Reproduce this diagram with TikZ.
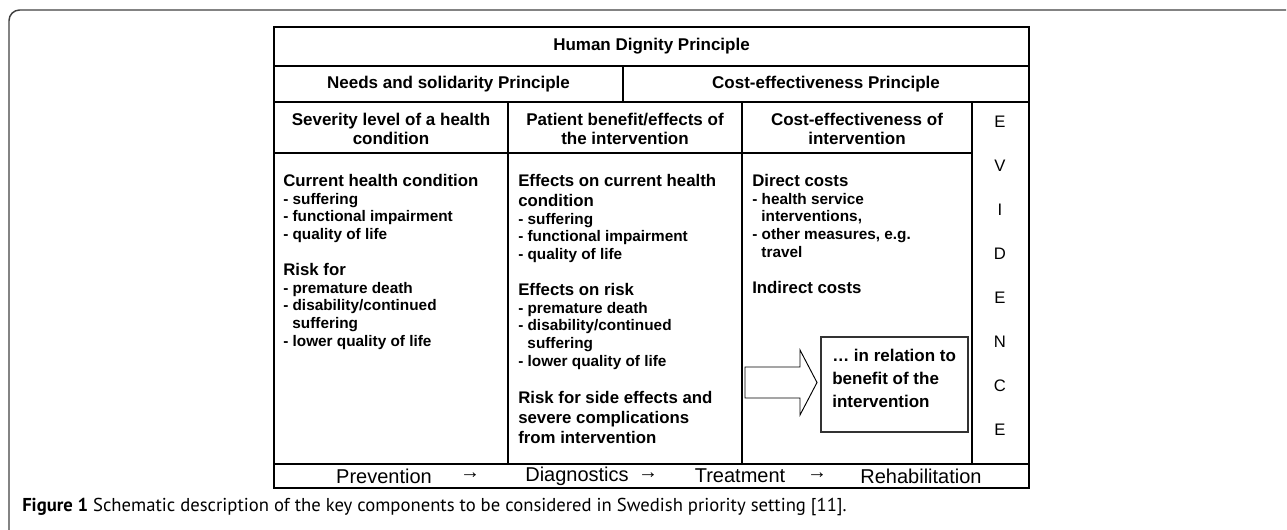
\documentclass[tikz,border=0pt]{standalone}
\usepackage{fontspec}
\setmainfont{Liberation Sans}
\newfontfamily\capfont{PT Sans}
\usepackage{tikz}
\usetikzlibrary{positioning}

\tikzset{
  rule/.style={line width=0.8pt},
  frame/.style={line width=1.1pt, black!75, rounded corners=8pt},
  hd/.style={font=\bfseries\fontsize{12.75}{14.5}\selectfont, align=center, inner sep=0pt},
  body/.style={font=\bfseries\fontsize{11.5}{13.3}\selectfont, align=left, anchor=north west, inner sep=0pt},
  ev/.style={font=\fontsize{12.5}{14}\selectfont, inner sep=0pt},
  flow/.style={font=\fontsize{15}{17}\selectfont, inner sep=0pt},
}
\newcommand{\ttl}[1]{{\fontsize{12.6}{13.3}\selectfont #1}}
\newcommand{\ind}{\hspace*{0.6em}}

\begin{document}
\begin{tikzpicture}[x=0.75pt, y=-0.75pt]
      \useasboundingbox (0,0) rectangle (1287,530);
      % frame round the figure
      \draw[frame] (9,530) -- (9,10) -- (1286,10);

      % table lines
      \draw[rule] (274,27) rectangle (1029,488);
      \draw[rule] (274,66) -- (1029,66);
      \draw[rule] (274,102) -- (1029,102);
      \draw[rule] (623,66) -- (623,102);
      \draw[rule] (274,153) -- (972,153);
      \draw[rule] (274,464) -- (1029,464);
      \foreach \x in {508,742,972}
        \draw[rule] (\x,102) -- (\x,464);

      % headers
      \node[hd] (dig) at (651.5,46.5) {Human Dignity Principle};
      \node[hd] (need) at (448.5,84) {Needs and solidarity Principle};
      \node[hd] (cost) at (826,84) {Cost-effectiveness Principle};
      \node[hd] (sev) at (391,129) {Severity level of a health\\condition};
      \node[hd] (ben) at (625,129) {Patient benefit/effects of\\the intervention};
      \node[hd] (eff) at (857,129) {Cost-effectiveness of\\intervention};

      % column texts
      \node[body] (cur) at (283,174) {\ttl{Current health condition}\\
        - suffering\\- functional impairment\\- quality of life\\[13.6pt]
        \ttl{Risk for}\\- premature death\\- disability/continued\\
        \ind suffering\\- lower quality of life};
      \node[body] (onc) at (518,174) {\ttl{Effects on current health}\\[1.7pt]
        \ttl{condition}\\- suffering\\- functional impairment\\- quality of life\\[13.6pt]
        \ttl{Effects on risk}\\- premature death\\- disability/continued\\
        \ind suffering\\- lower quality of life\\[14.6pt]
        \ttl{Risk for side effects and}\\[1.7pt]
        \ttl{severe complications}\\[1.7pt]
        \ttl{from intervention}};
      \node[body] (dir) at (752,174) {\ttl{Direct costs}\\
        - health service\\\ind interventions,\\- other measures, e.g.\\
        \ind travel\\[13.6pt]
        \ttl{Indirect costs}};

      % arrow into the box
      \draw[line width=0.7pt, fill=white] (745,367) -- (800,367) -- (800,350)
        -- (817,382.5) -- (800,415) -- (800,398) -- (745,398) -- cycle;
      \draw[line width=0.8pt, black!80] (821,337) rectangle (968,432);
      \node[body, font=\bfseries\fontsize{12.75}{17.25}\selectfont] (rel) at (832,349)
        {… in relation to\\benefit of the\\intervention};

      % evidence column
      \foreach \l [count=\i] in {E,V,I,D,E,N,C,E}
        \node[ev] (ev\i) at (1000,{122+(\i-1)*44}) {\l};

      % bottom row
      \node[flow] (prev) at (384,476) {Prevention};
      \node[flow] (a1) at (470,476) {→};
      \node[flow] (diag) at (577,476) {Diagnostics};
      \node[flow] (a2) at (648,476) {→};
      \node[flow] (treat) at (740,476) {Treatment};
      \node[flow] (a3) at (817,476) {→};
      \node[flow] (rehab) at (921,476) {Rehabilitation};

      % caption
      \node[anchor=west, inner sep=0pt, font=\capfont\fontsize{14}{16}\selectfont] (cap) at (22,507)
        {\textbf{Figure 1} Schematic description of the key components to be considered in Swedish priority setting [11].};
\end{tikzpicture}
\end{document}
